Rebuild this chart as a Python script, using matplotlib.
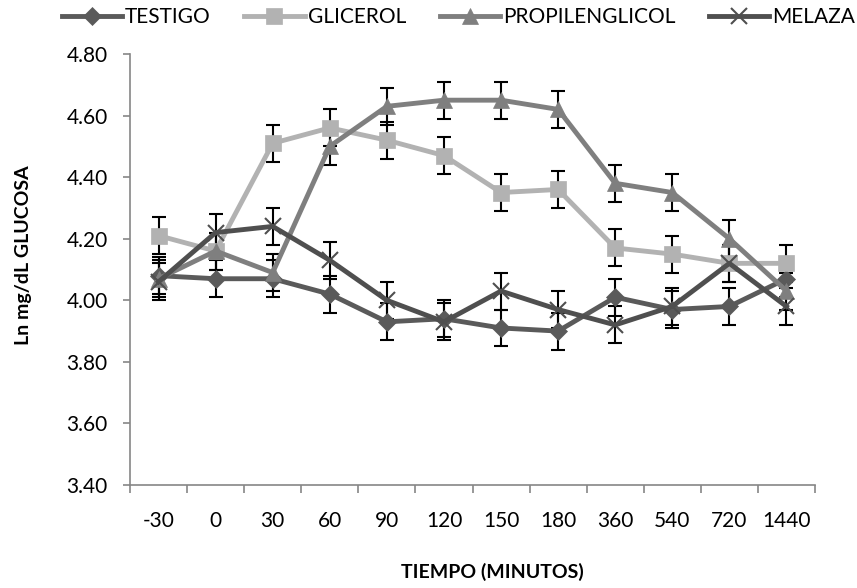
import numpy as np
import matplotlib.pyplot as plt

plt.rcParams['font.family'] = ['Lato', 'DejaVu Sans']

tiempos = ['-30', '0', '30', '60', '90', '120', '150', '180', '360', '540', '720', '1440']

testigo = [4.08, 4.07, 4.07, 4.02, 3.93, 3.94, 3.91, 3.90, 4.01, 3.97, 3.98, 4.07]
glicerol = [4.21, 4.16, 4.51, 4.56, 4.52, 4.47, 4.35, 4.36, 4.17, 4.15, 4.12, 4.12]
propilenglicol = [4.07, 4.16, 4.09, 4.50, 4.63, 4.65, 4.65, 4.62, 4.38, 4.35, 4.20, 4.03]
melaza = [4.06, 4.22, 4.24, 4.13, 4.00, 3.93, 4.03, 3.97, 3.92, 3.98, 4.12, 3.98]
error = 0.06

series = [
    ('TESTIGO', testigo, '#5a5a5a', 'D', 9),
    ('GLICEROL', glicerol, '#b2b2b2', 's', 11),
    ('PROPILENGLICOL', propilenglicol, '#7f7f7f', '^', 11),
    ('MELAZA', melaza, '#4f4f4f', 'x', 12),
]

fig = plt.figure(figsize=(8.57, 5.88), dpi=100)
ax = fig.add_axes([130 / 857, 1 - 485 / 588, (815 - 130) / 857, (485 - 54) / 588])

x = np.arange(len(tiempos))
for name, vals, color, marker, ms in series:
    ax.errorbar(x, vals, yerr=error, fmt='none', ecolor='black',
                elinewidth=1.5, capsize=5, capthick=1.5, zorder=2)
for name, vals, color, marker, ms in series:
    ax.plot(x, vals, color=color, linewidth=3.5, marker=marker, markersize=ms,
            markeredgewidth=1.5 if marker == 'x' else 0.5,
            markeredgecolor=color, label=name, zorder=3)

ax.set_xlim(-0.5, len(tiempos) - 0.5)
ax.set_ylim(3.40, 4.80)
ax.set_yticks(np.arange(3.40, 4.81, 0.20))
ax.set_yticklabels([f'{v:.2f}' for v in np.arange(3.40, 4.81, 0.20)])
ax.set_xticks(x)
ax.set_xticklabels(tiempos)
ax.set_xticks(np.arange(-0.5, len(tiempos), 1), minor=True)
ax.tick_params(axis='x', which='major', length=0, pad=19, labelsize=15)
ax.tick_params(axis='x', which='minor', length=6, color='#868686', width=1.2)
ax.tick_params(axis='y', length=5, color='#868686', width=1.2, labelsize=15, pad=11)

for side in ['top', 'right']:
    ax.spines[side].set_visible(False)
for side in ['left', 'bottom']:
    ax.spines[side].set_color('#868686')
    ax.spines[side].set_linewidth(1.2)

ax.set_xlabel('TIEMPO (MINUTOS)', fontsize=14, fontweight='bold')
ax.set_ylabel('Ln mg/dL GLUCOSA', fontsize=14, fontweight='bold')
ax.xaxis.set_label_coords((492 - 130) / 685, -(572 - 485) / 431, transform=ax.transAxes)
ax.yaxis.set_label_coords(-(130 - 24) / 685, (485 - 255) / 431, transform=ax.transAxes)
ax.xaxis.label.set_va('center')
ax.yaxis.label.set_va('center')

fig.legend(loc='upper center', bbox_to_anchor=(0.535, 1.02), ncol=4,
           frameon=False, fontsize=15, handlelength=2.9, handletextpad=0.15,
           columnspacing=1.6)

fig.savefig('out.png', dpi=100)
